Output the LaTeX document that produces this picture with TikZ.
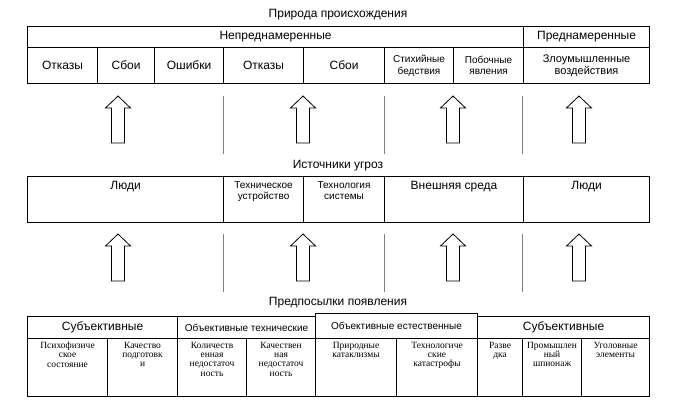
\documentclass[tikz,border=0pt]{standalone}
\usepackage{fontspec}
\setmainfont{Liberation Sans}
\newfontfamily\tnr{Liberation Serif}
\usetikzlibrary{positioning}
\setlength{\lineskiplimit}{-100pt}

\begin{document}
\begin{tikzpicture}[x=1pt, y=-1pt,
    cell/.style={draw, line width=1.1pt, rectangle, anchor=north west, inner sep=0pt, align=center},
    txt/.style={inner sep=0pt, align=center},
    fbig/.style={font=\fontsize{12}{14}\selectfont},
    fmid/.style={font=\fontsize{11}{12}\selectfont},
    fsml/.style={font=\fontsize{10}{11.5}\selectfont},
    fser/.style={font=\tnr\fontsize{9.5}{9.2}\selectfont},
    blk/.style={draw, fill=white, line width=0.8pt, line join=miter},
    sep/.style={draw=gray, line width=1pt}]
    \useasboundingbox (0,0) rectangle (682,405);

    % Titles
    \node[txt, fbig] (origin) at (338,15) {Природа происхождения};
    \node[txt, fbig] (source) at (338,166) {Источники угроз};
    \node[txt, fbig] (premise) at (338,303) {Предпосылки появления};

    % Top table
    \node[cell, fbig, minimum width=496, minimum height=21] (nep) at (27,26) {Непреднамеренные};
    \node[cell, fbig, minimum width=126, minimum height=21] (pre) at (523,26) {Преднамеренные};
    \foreach \a/\b/\f/\t [count=\i] in {27/97/fbig/Отказы, 97/154/fbig/Сбои, 154/223/fbig/Ошибки,
        223/303/fbig/Отказы, 303/384/fbig/Сбои, 384/453/fsml/{Стихийные\\бедствия},
        453/523/fsml/{Побочные\\явления}, 523/649/fmid/{Злоумышленные\\воздействия}}
        \node[cell, \f, minimum width=\b-\a, minimum height=36] (t\i) at (\a,47) {\t};

    % Middle table
    \foreach \a/\b/\f/\t [count=\i] in {27/223/fbig/Люди, 223/303/fsml/{Техническое\\устройство},
        303/384/fsml/{Технология\\системы}, 384/523/fbig/{Внешняя среда}, 523/649/fbig/Люди}{
        \node[cell, minimum width=\b-\a, minimum height=46] (m\i) at (\a,176) {};
        \node[txt, \f, below=5pt of m\i.north] (mt\i) {\t};
    }

    % Bottom table
    \node[cell, fbig, minimum width=150, minimum height=22] (subj1) at (27,316) {Субъективные};
    \node[cell, fsml, minimum width=138, minimum height=22] (objt) at (177,316) {Объективные технические};
    \node[cell, fsml, minimum width=162, minimum height=25] (obje) at (315,313) {Объективные естественные};
    \node[cell, fbig, minimum width=172, minimum height=22] (subj2) at (477,316) {Субъективные};
    \foreach \a/\b/\t [count=\i] in {27/107/{Психофизиче\\ское\\состояние}, 107/177/{Качество\\подготовк\\и},
        177/246/{Количеств\\енная\\недостаточ\\ность}, 246/315/{Качествен\\ная\\недостаточ\\ность},
        315/396/{Природные\\катаклизмы}, 396/477/{Технологиче\\ские\\катастрофы},
        477/522/{Разве\\дка}, 522/581/{Промышлен\\ный\\шпионаж}, 581/649/{Уголовные\\элементы}}{
        \node[cell, minimum width=\b-\a, minimum height=58] (b\i) at (\a,338) {};
        \node[txt, fser, below=4pt of b\i.north] (bt\i) {\t};
    }

    % Arrows and dividers
    \foreach \y in {96,234}{
        \foreach \x in {118,303,453,579}
            \draw[blk] (\x,\y) -- ++(12.5,12) -- ++(-6,0) -- ++(0,35) -- ++(-13,0)
                -- ++(0,-35) -- ++(-6,0) -- cycle;
        \foreach \x in {223,384,522}
            \draw[sep] (\x,\y) -- ++(0,58);
    }
\end{tikzpicture}
\end{document}
